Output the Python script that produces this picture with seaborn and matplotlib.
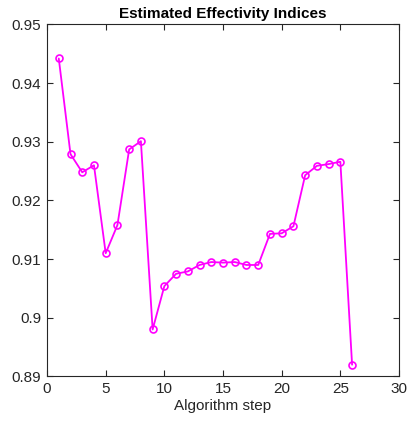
import matplotlib
matplotlib.use("Agg")
import matplotlib.pyplot as plt
import seaborn as sns
import pandas as pd

steps = list(range(1, 27))
effectivity = [0.9442, 0.9279, 0.9248, 0.9260, 0.9110, 0.9158, 0.9287, 0.9301,
               0.8980, 0.9054, 0.9075, 0.9079, 0.9090, 0.9095, 0.9094, 0.9095,
               0.9090, 0.9090, 0.9143, 0.9144, 0.9156, 0.9243, 0.9259, 0.9262,
               0.9266, 0.8920]
x_ticks = [0, 5, 10, 15, 20, 25, 30]
y_ticks = [0.89, 0.9, 0.91, 0.92, 0.93, 0.94, 0.95]
y_tick_labels = ["0.89", "0.9", "0.91", "0.92", "0.93", "0.94", "0.95"]

sns.set_style("white")
plt.rcParams['font.family'] = ['Liberation Sans', 'DejaVu Sans']

df = pd.DataFrame({"step": steps, "value": effectivity})

fig = plt.figure(figsize=(4.09, 4.22), dpi=100)
ax = fig.add_axes([0.115, 0.108, 0.8606, 0.834])
sns.lineplot(data=df, x="step", y="value", ax=ax, color="#ff00ff", linewidth=1.3,
             marker="o", markersize=5, markerfacecolor="none",
             markeredgecolor="#ff00ff", markeredgewidth=1.2)

ax.set_xlim(0, 30)
ax.set_ylim(0.89, 0.95)
ax.set_xticks(x_ticks)
ax.set_yticks(y_ticks)
ax.set_yticklabels(y_tick_labels)
ax.tick_params(direction="in", length=4, width=0.8, labelsize=11, colors="#262626",
               top=True, right=True, bottom=True, left=True, pad=4)
for lab in ax.get_xticklabels() + ax.get_yticklabels():
    lab.set_color("#262626")
for s in ax.spines.values():
    s.set_color("#262626")
    s.set_linewidth(0.8)
ax.set_xlabel("Algorithm step", fontsize=11, color="#262626", labelpad=2)
ax.set_ylabel("")
ax.set_title("Estimated Effectivity Indices", fontsize=11, fontweight="bold",
             color="black", pad=5)
ax.grid(False)

fig.savefig("out.png", dpi=100)
